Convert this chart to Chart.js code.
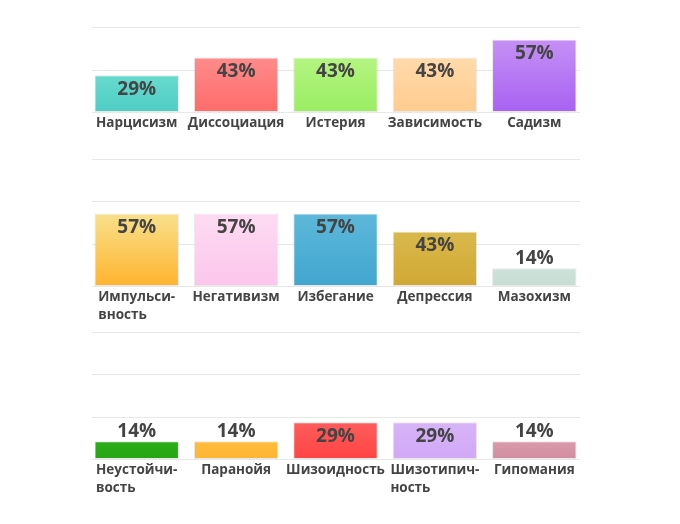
<!DOCTYPE html>
<html>
<head>
<meta charset="utf-8">
<script src="https://cdn.jsdelivr.net/npm/chart.js@4.4.1/dist/chart.umd.min.js"></script>
<style>
  body { margin: 0; background: #fff; width: 680px; height: 524px; overflow: hidden; position: relative; }
  canvas { position: absolute; left: 0; }
</style>
</head>
<body>
<canvas id="row1" width="680" height="187" style="top:-25px"></canvas>
<canvas id="row2" width="680" height="187" style="top:149px"></canvas>
<canvas id="row3" width="680" height="187" style="top:322px"></canvas>
<script>
// data for the three rows
const cats1 = ['Нарцисизм', 'Диссоциация', 'Истерия', 'Зависимость', 'Садизм'];
const vals1 = [29, 43, 43, 43, 57];
const tops1 = ['#68dacd', '#ff8b8b', '#b4f482', '#ffdaab', '#c590f5'];
const bots1 = ['#4ecdc4', '#ff6b6b', '#9aee62', '#ffcc8f', '#a862f2'];

const cats2 = [['Импульси-', 'вность'], 'Негативизм', 'Избегание', 'Депрессия', 'Мазохизм'];
const vals2 = [57, 57, 57, 43, 14];
const tops2 = ['#f8e08c', '#fddbf2', '#5db8da', '#d9b94c', '#cfe2da'];
const bots2 = ['#ffb42e', '#fcc6ec', '#42a6cf', '#d1a834', '#c6dcd3'];

const cats3 = [['Неустойчи-', 'вость'], 'Паранойя', 'Шизоидность', ['Шизотипич-', 'ность'], 'Гипомания'];
const vals3 = [14, 14, 29, 29, 14];
const tops3 = ['#2cad19', '#ffbc3e', '#ff5c5c', '#d7b4f8', '#d99bab'];
const bots3 = ['#27a514', '#ffb533', '#ff4444', '#d1a8f6', '#d28ea1'];

const gridVals = [0, 100 / 3, 200 / 3, 100];
const FONT = "'Open Sans', 'DejaVu Sans', sans-serif";

const gridPlugin = {
    id: 'rowGrid',
    beforeDatasetsDraw(chart) {
        const ctx = chart.ctx;
        const y = chart.scales.y;
        ctx.save();
        ctx.strokeStyle = '#e8e8e8';
        ctx.lineWidth = 1;
        gridVals.forEach(v => {
            const py = Math.round(y.getPixelForValue(v)) + 0.5;
            ctx.beginPath();
            ctx.moveTo(92, py);
            ctx.lineTo(580, py);
            ctx.stroke();
        });
        ctx.restore();
    }
};

const labelPlugin = {
    id: 'rowLabels',
    afterDatasetsDraw(chart) {
        const ctx = chart.ctx;
        const xs = chart.scales.x;
        const base = chart.chartArea.bottom;
        const meta = chart.getDatasetMeta(0);
        const data = chart.data.datasets[0].data;
        ctx.save();
        ctx.fillStyle = '#444';
        ctx.textBaseline = 'middle';
        // value labels
        ctx.font = 'bold 19px ' + FONT;
        ctx.textAlign = 'center';
        meta.data.forEach((bar, i) => {
            const ty = data[i] >= 25 ? bar.y + 14 : bar.y - 10;
            ctx.fillText(data[i] + '%', bar.x, ty);
        });
        // category labels, lines left aligned inside a centered block
        ctx.font = 'bold 13.5px ' + FONT;
        ctx.textAlign = 'left';
        chart.data.labels.forEach((lab, i) => {
            const lines = Array.isArray(lab) ? lab : [lab];
            const w = Math.max(...lines.map(l => ctx.measureText(l).width));
            const cx = xs.getPixelForValue(i);
            lines.forEach((l, j) => {
                ctx.fillText(l, cx - w / 2, base + 11 + j * 18);
            });
        });
        ctx.restore();
    }
};

function makeRow(id, cats, vals, tops, bots) {
    new Chart(document.getElementById(id), {
        type: 'bar',
        data: {
            labels: cats,
            datasets: [{
                data: vals,
                backgroundColor: (c) => {
                    const chart = c.chart;
                    if (!chart.chartArea || c.dataIndex === undefined) return bots[c.dataIndex || 0];
                    const y = chart.scales.y;
                    const top = y.getPixelForValue(vals[c.dataIndex]);
                    const g = chart.ctx.createLinearGradient(0, top, 0, chart.chartArea.bottom);
                    g.addColorStop(0, tops[c.dataIndex]);
                    g.addColorStop(1, bots[c.dataIndex]);
                    return g;
                },
                borderColor: 'rgba(0,0,0,0.09)',
                borderWidth: 1,
                borderSkipped: false,
                categoryPercentage: 1,
                barPercentage: 0.85
            }]
        },
        options: {
            responsive: false,
            animation: false,
            layout: { padding: { top: 10, bottom: 50, left: 87, right: 96 } },
            plugins: { legend: { display: false }, tooltip: { enabled: false } },
            scales: {
                x: { display: false },
                y: { display: false, min: 0, max: 100 }
            }
        },
        plugins: [gridPlugin, labelPlugin]
    });
}

makeRow('row1', cats1, vals1, tops1, bots1);
makeRow('row2', cats2, vals2, tops2, bots2);
makeRow('row3', cats3, vals3, tops3, bots3);
</script>
</body>
</html>
